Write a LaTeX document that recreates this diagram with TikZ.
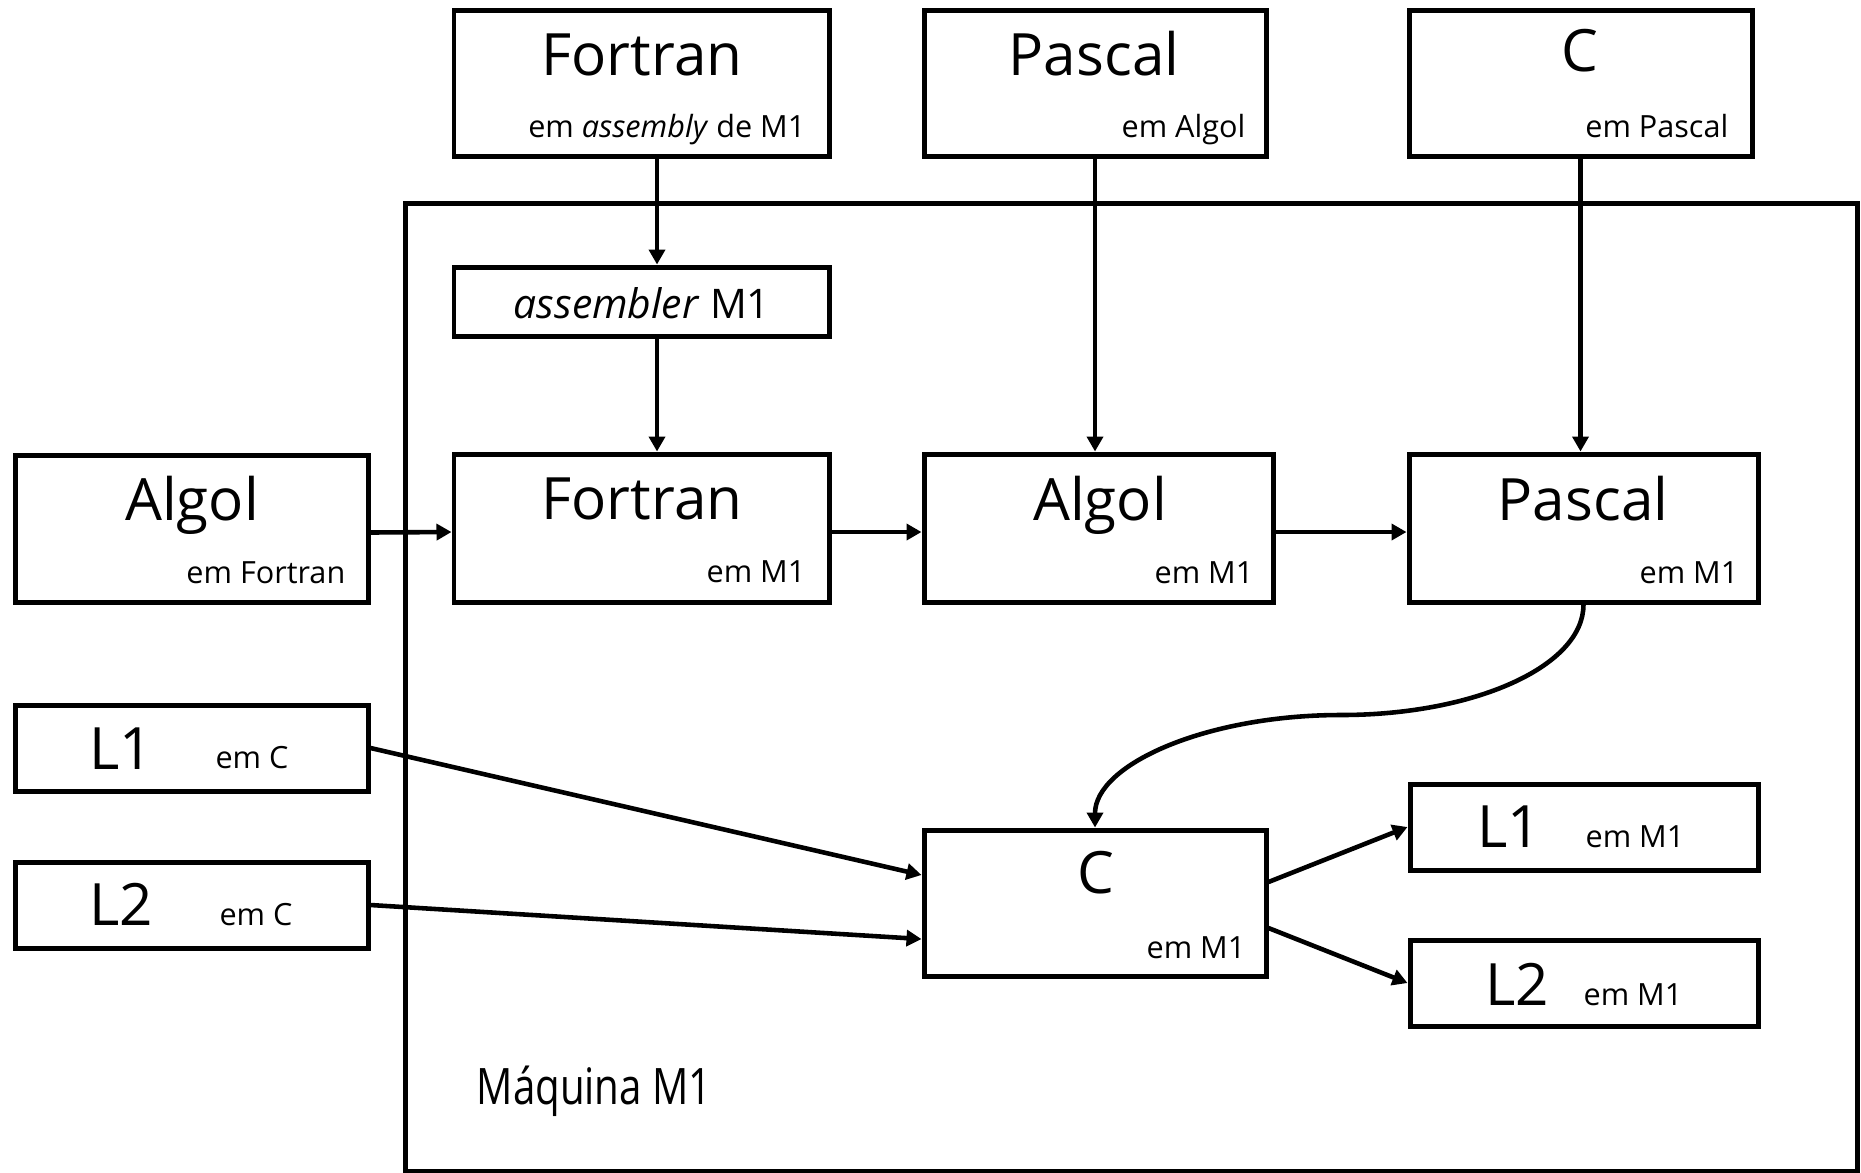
\documentclass[tikz,border=0pt]{standalone}
\usepackage{fontspec}
\setmainfont{Open Sans}
\usetikzlibrary{arrows.meta}

% a language box given by its left, top, right and bottom edges
\newcommand\langbox[6][box]{%
  \pgfmathsetmacro\bxw{(#5-#3)*0.01}%
  \pgfmathsetmacro\bxh{(#6-#4)*0.01}%
  \node[#1, minimum width=\bxw cm, minimum height=\bxh cm] (#2) at ({(#3+#5)/2},{(#4+#6)/2}) {};}

\begin{document}
\begin{tikzpicture}[x=0.01cm, y=-0.01cm,
  box/.style={draw, line width=1.42pt, rectangle, inner sep=0pt},
  frame/.style={draw, line width=1.42pt, rectangle, inner sep=0pt},
  big/.style={font=\fontsize{16.6}{20}\selectfont, inner sep=0pt},
  small/.style={font=\fontsize{8.7}{10}\selectfont, inner sep=0pt},
  mid/.style={font=\fontsize{11.6}{14}\selectfont, inner sep=0pt},
  conn/.style={line width=1.3pt, -{Triangle[length=0.15cm, width=0.16cm]}}]

\useasboundingbox (0,0) rectangle (1861,1172);

% machine M1
\langbox[frame]{m1}{405.5}{203.5}{1857.5}{1171}
\node[font=\fontsize{14.3}{17}\selectfont, inner sep=0pt, anchor=base west] (m1-t)
  at (476,1104) {\scalebox{0.8}[1]{Máquina M1}};

% compilers written in other languages
\langbox{ftop}{454}{10}{829}{156}
\node[big, anchor=base] (ftop-t) at (642,75) {Fortran};
\node[small, anchor=base east] (ftop-s) at (806,137) {em \textit{assembly} de M1};

\langbox{ptop}{924}{10}{1266}{156}
\node[big, anchor=base] (ptop-t) at (1094,75) {Pascal};
\node[small, anchor=base east] (ptop-s) at (1246,137) {em Algol};

\langbox{ctop}{1409}{10}{1752}{156}
\node[big, anchor=base] (ctop-t) at (1580,71) {C};
\node[small, anchor=base east] (ctop-s) at (1729,137) {em Pascal};

\langbox{asm}{454}{267}{829}{336}
\node[mid, anchor=base] (asm-t) at (642,318) {\textit{assembler} M1};

\langbox{af}{15.5}{455}{368}{602}
\node[big, anchor=base] (af-t) at (192,520) {Algol};
\node[small, anchor=base east] (af-s) at (346,583) {em Fortran};

% compilers running on M1
\langbox{fm}{454}{454}{829}{602}
\node[big, anchor=base] (fm-t) at (642,519) {Fortran};
\node[small, anchor=base east] (fm-s) at (806,582) {em M1};

\langbox{am}{924}{454}{1273}{602}
\node[big, anchor=base] (am-t) at (1100,520) {Algol};
\node[small, anchor=base east] (am-s) at (1254,583) {em M1};

\langbox{pm}{1409}{454}{1758}{602}
\node[big, anchor=base] (pm-t) at (1583,520) {Pascal};
\node[small, anchor=base east] (pm-s) at (1739,583) {em M1};

\langbox{cm}{924}{830}{1266}{976}
\node[big, anchor=base] (cm-t) at (1096,893) {C};
\node[small, anchor=base east] (cm-s) at (1246,958) {em M1};

% programs
\langbox{l1c}{15.5}{705}{368}{791}
\node[big, anchor=base] (l1c-t) at (121,769) {L1};
\node[small, anchor=base] (l1c-s) at (252,768) {em C};

\langbox{l2c}{15.5}{862}{368}{948}
\node[big, anchor=base] (l2c-t) at (121,925) {L2};
\node[small, anchor=base] (l2c-s) at (256,925) {em C};

\langbox{l1m}{1410}{784}{1758}{870}
\node[big, anchor=base] (l1m-t) at (1509,847) {L1};
\node[small, anchor=base] (l1m-s) at (1635,847) {em M1};

\langbox{l2m}{1410}{940}{1758}{1026}
\node[big, anchor=base] (l2m-t) at (1517,1005) {L2};
\node[small, anchor=base] (l2m-s) at (1633,1005) {em M1};

% connectors
\draw[conn] ([xshift=0.155cm]ftop.south) -- ([xshift=0.155cm]asm.north);
\draw[conn] ([xshift=0.155cm]asm.south) -- ([xshift=0.155cm]fm.north);
\draw[conn] (ptop.south) -- (ptop.south |- am.north);
\draw[conn] (ctop.south) -- (ctop.south |- pm.north);

\draw[conn] ([yshift=-0.04cm]af.east) -- ([yshift=-0.04cm]fm.west);
\draw[conn] ([yshift=-0.04cm]fm.east) -- ([yshift=-0.04cm]am.west);
\draw[conn] ([yshift=-0.04cm]am.east) -- ([yshift=-0.04cm]pm.west);

\coordinate (bend) at (1341,715);
\draw[conn] (pm.south) .. controls +(0,62) and +(133,0) .. (bend)
  .. controls +(-135,0) and +(0,-63) .. (cm.north);

\draw[conn] (l1c.east) -- ([yshift=0.28cm]cm.west);
\draw[conn] (l2c.east) -- ([yshift=-0.36cm]cm.west);
\draw[conn] ([yshift=0.21cm]cm.east) -- (l1m.west);
\draw[conn] ([yshift=-0.25cm]cm.east) -- (l2m.west);

\end{tikzpicture}
\end{document}
